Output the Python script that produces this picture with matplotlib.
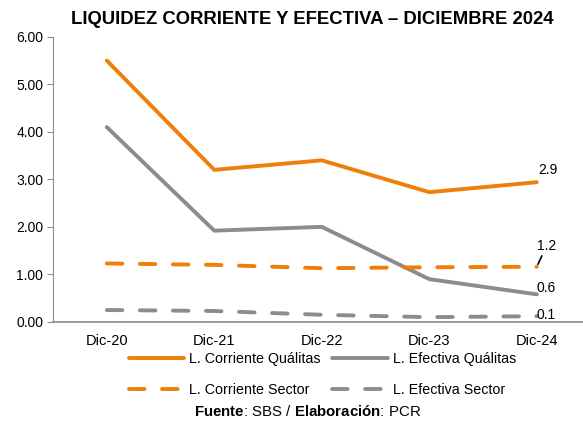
import matplotlib.pyplot as plt

plt.rcParams["font.family"] = ["Liberation Sans", "DejaVu Sans"]
plt.rcParams["mathtext.fontset"] = "custom"
plt.rcParams["mathtext.rm"] = "Liberation Sans"
plt.rcParams["mathtext.bf"] = "Liberation Sans:bold"

periodos = ["Dic-20", "Dic-21", "Dic-22", "Dic-23", "Dic-24"]
corriente_qualitas = [5.50, 3.20, 3.40, 2.73, 2.94]
efectiva_qualitas = [4.10, 1.92, 2.00, 0.90, 0.58]
corriente_sector = [1.23, 1.20, 1.13, 1.15, 1.16]
efectiva_sector = [0.25, 0.23, 0.15, 0.10, 0.12]

naranja = "#F07F0A"
gris = "#8C8C8C"
eje = "#8C8C8C"

fig = plt.figure(figsize=(5.83, 4.23), dpi=100)
ax = fig.add_axes([0.091, 0.239, 0.909, 0.674])

x = list(range(len(periodos)))
l1, = ax.plot(x, corriente_qualitas, color=naranja, lw=2.8, solid_capstyle="round",
              label="L. Corriente Quálitas")
l2, = ax.plot(x, efectiva_qualitas, color=gris, lw=2.8, solid_capstyle="round",
              label="L. Efectiva Quálitas")
l3, = ax.plot(x, corriente_sector, color=naranja, lw=2.8, dashes=(4, 4.5),
              dash_capstyle="round", label="L. Corriente Sector")
l4, = ax.plot(x, efectiva_sector, color=gris, lw=2.8, dashes=(4, 4.5),
              dash_capstyle="round", label="L. Efectiva Sector")

# etiquetas del ultimo periodo
ultimo = x[-1]
ax.annotate(f"{corriente_qualitas[-1]:.1f}", (ultimo, corriente_qualitas[-1]),
            xytext=(1, 6), textcoords="offset points", fontsize=10)
ax.annotate(f"{corriente_sector[-1]:.1f}", (ultimo, corriente_sector[-1]),
            xytext=(0, 12), textcoords="offset points", fontsize=10,
            arrowprops=dict(arrowstyle="-", color="black", lw=1.2,
                            shrinkA=0, shrinkB=2))
ax.annotate(f"{efectiva_qualitas[-1]:.1f}", (ultimo, efectiva_qualitas[-1]),
            xytext=(0, 2), textcoords="offset points", fontsize=10)
ax.annotate(f"{efectiva_sector[-1]:.1f}", (ultimo, efectiva_sector[-1]),
            xytext=(0, -2), textcoords="offset points", fontsize=10)

ax.set_xlim(-0.5, 4.43)
ax.set_ylim(0, 6)
ax.set_yticks([0, 1, 2, 3, 4, 5, 6])
ax.set_yticklabels([f"{v:.2f}" for v in [0, 1, 2, 3, 4, 5, 6]])
ax.set_xticks(x)
ax.set_xticklabels(periodos)
ax.tick_params(axis="y", labelsize=10, length=4, color=eje, pad=3)
ax.tick_params(axis="x", labelsize=10.5, length=0, pad=9)

for lado in ["top", "right"]:
    ax.spines[lado].set_visible(False)
ax.spines["left"].set_color(eje)
ax.spines["bottom"].set_color(eje)
ax.spines["bottom"].set_linewidth(1.2)

fig.text(0.536, 0.975, "LIQUIDEZ CORRIENTE Y EFECTIVA – DICIEMBRE 2024",
         ha="center", va="top", fontsize=13.3, fontweight="bold")

fig.legend([l1, l3, l2, l4], [l.get_label() for l in [l1, l3, l2, l4]],
           loc="upper center", bbox_to_anchor=(0.553, 0.168), ncol=2,
           frameon=False, fontsize=10.3, handlelength=3.9, handletextpad=0.35,
           columnspacing=0.8, labelspacing=1.2, borderaxespad=0, borderpad=0)

fig.text(0.527, 0.028, r"$\bf{Fuente}$: SBS / $\bf{Elaboración}$: PCR",
         ha="center", va="center", fontsize=10.8)

fig.savefig("out.png", dpi=100)
